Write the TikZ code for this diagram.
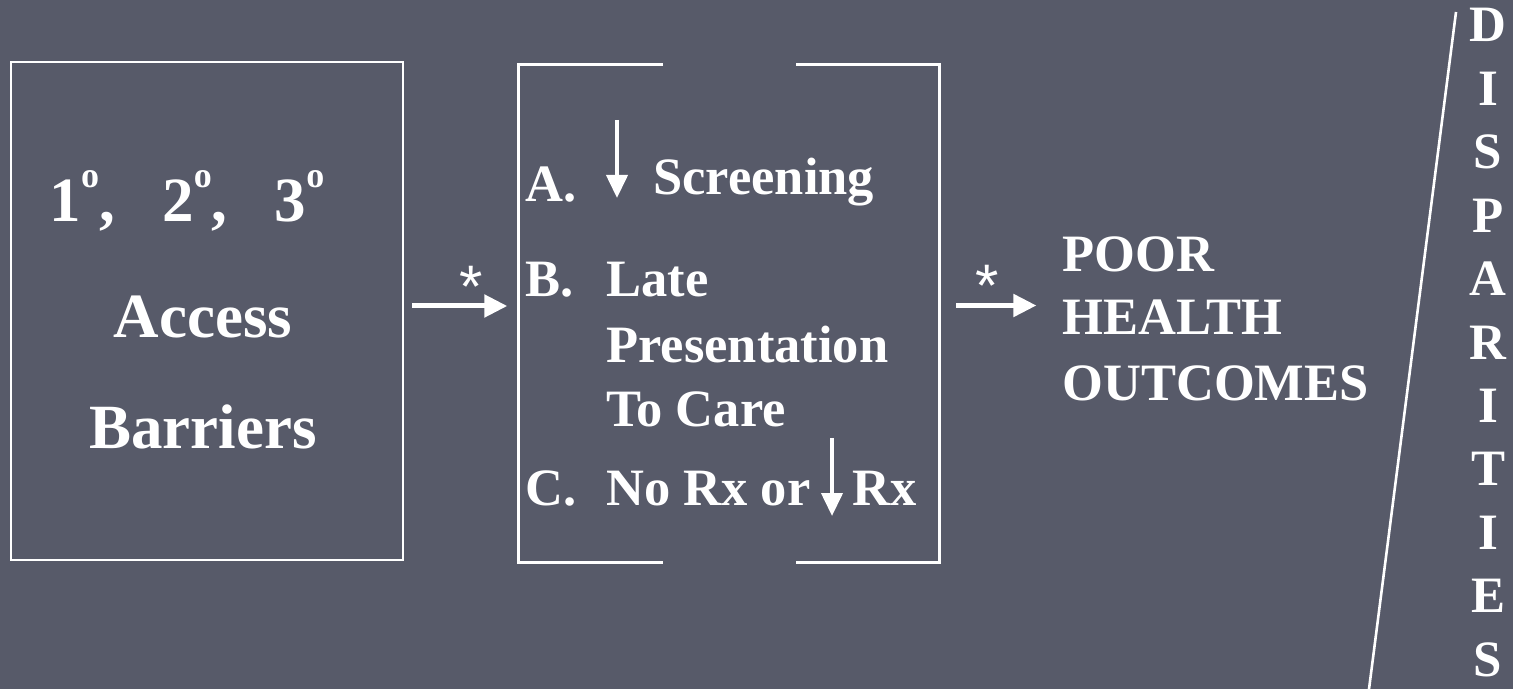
\documentclass[tikz,border=0pt]{standalone}
\usepackage{fontspec}
\setmainfont{Liberation Serif}
\newfontfamily\starfont{Liberation Sans}
\usetikzlibrary{arrows.meta,calc}
\definecolor{slate}{RGB}{87,90,105}
\newcommand\bigtxt{\fontsize{31.5}{38}\selectfont\bfseries}
\newcommand\midtxt{\fontsize{26.25}{32}\selectfont\bfseries}
\newcommand\coltxt{\fontsize{25.5}{30}\selectfont\bfseries}
\newcommand\ordo{\raisebox{0.54em}{\fontsize{18}{18}\selectfont o}}

\begin{document}
\begin{tikzpicture}[x=0.5pt, y=-0.5pt, white]
  \tikzstyle{frame} = [draw, line width=1.3pt]
  \tikzstyle{flow} = [draw, line width=2.5pt, -{Triangle[length=11.5pt,width=11pt]}]
  \tikzstyle{fall} = [draw, line width=2pt, -{Triangle[length=11.5pt,width=10.5pt]}]
  \tikzstyle{txt} = [inner sep=0pt, text=white]
  \tikzstyle{aster} = [inner sep=0pt, anchor=base, text=white, font=\starfont\fontsize{30}{34}\selectfont]

  \path[use as bounding box, fill=slate] (0,0) rectangle (1513,689);

  % access barriers box
  \node[frame, rectangle, minimum width=196pt, minimum height=249pt] (access) at (207,311) {};
  \node[txt, anchor=base, font=\bigtxt] (levels) at (187,222)
    {1\ordo,\hspace{0.75em}2\ordo,\hspace{0.75em}3\ordo};
  \node[txt, anchor=base, font=\bigtxt] (acc) at (203,337) {Access};
  \node[txt, anchor=base, font=\bigtxt] (bar) at (203,448) {Barriers};

  % bracketed consequences
  \node[rectangle, minimum width=210pt, minimum height=248.5pt] (effects) at (729,313.5) {};
  \draw[frame] ([xshift=-33pt]effects.north) -- (effects.north west)
    -- (effects.south west) -- ([xshift=-33pt]effects.south);
  \draw[frame] ([xshift=33.5pt]effects.north) -- (effects.north east)
    -- (effects.south east) -- ([xshift=33.5pt]effects.south);

  \node[txt, anchor=base west, font=\midtxt] (ia) at (525,202) {A.};
  \draw[fall] (617,120) -- (617,198);
  \node[txt, anchor=base west, font=\midtxt] (screen) at (653,195) {Screening};
  \node[txt, anchor=base west, font=\midtxt] (ib) at (525,297) {B.};
  \node[txt, anchor=base west, font=\midtxt] (late) at (606,297) {Late};
  \node[txt, anchor=base west, font=\midtxt] (pres) at (606,362) {Presentation};
  \node[txt, anchor=base west, font=\midtxt] (care) at (606,426) {To Care};
  \node[txt, anchor=base west, font=\midtxt] (ic) at (525,505) {C.};
  \node[txt, anchor=base west, font=\midtxt] (norx) at (606,505) {No Rx or};
  \draw[fall] (832,438) -- (832,516);
  \node[txt, anchor=base west, font=\midtxt] (rx) at (852,505) {Rx};

  % arrows
  \draw[flow] (access.east) ++(8,-5) -- ++(95,0)
    node[aster, pos=0.62, yshift=-0.5pt] (s1) {*};
  \draw[flow] (effects.east) ++(17,-8) -- ++(80,0)
    node[aster, pos=0.39, yshift=-0.5pt] (s2) {*};

  % outcome
  \node[txt, anchor=base west, font=\midtxt] (poor) at (1062,272) {POOR};
  \node[txt, anchor=base west, font=\midtxt] (health) at (1062,335) {HEALTH};
  \node[txt, anchor=base west, font=\midtxt] (outc) at (1062,400) {OUTCOMES};

  % disparities column
  \draw[line width=1.3pt] (1456,12) -- (1369,689);
  \foreach \ch [count=\i from 0] in {D,I,S,P,A,R,I,T,I,E,S}
    \node[txt, anchor=base, font=\coltxt] (d\i) at (1488,42+63.4*\i) {\ch};
\end{tikzpicture}
\end{document}
